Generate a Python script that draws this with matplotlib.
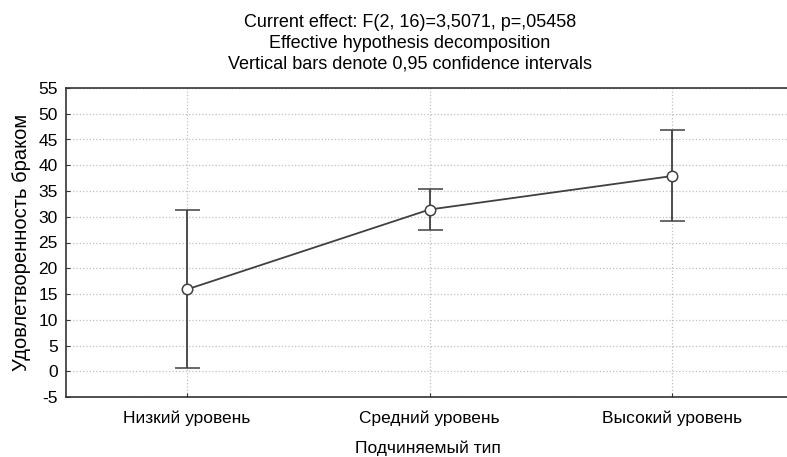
import matplotlib.pyplot as plt

plt.rcParams['font.family'] = ['Liberation Sans', 'DejaVu Sans']
plt.rcParams['axes.unicode_minus'] = False

categories = ['Низкий уровень', 'Средний уровень', 'Высокий уровень']
means = [15.9, 31.4, 37.9]
ci_low = [0.7, 27.4, 29.1]
ci_high = [31.3, 35.4, 46.8]

yerr = [[m - lo for m, lo in zip(means, ci_low)],
        [hi - m for m, hi in zip(means, ci_high)]]

fig = plt.figure(figsize=(7.87, 4.57), dpi=100)
ax = fig.add_axes([66 / 787, 1 - 397 / 457, 727 / 787, 309 / 457])

x = list(range(len(categories)))
ax.errorbar(x, means, yerr=yerr, color='#404040', lw=1.3, capsize=9,
            elinewidth=1.3, capthick=1.3, marker='o', markersize=7.5,
            markerfacecolor='white', markeredgecolor='#404040', mew=1.1,
            zorder=3)

ax.set_xlim(-0.5, 2.5)
ax.set_ylim(-5, 55)
ax.set_yticks(range(-5, 60, 5))
ax.set_xticks(x)
ax.set_xticklabels(categories)
ax.grid(True, linestyle=':', color='#c0c0c0', lw=0.9)
ax.tick_params(direction='in', length=3, labelsize=12.5, pad=6, color='#333333')
ax.tick_params(axis='x', pad=10)
for s in ax.spines.values():
    s.set_color('#333333')
    s.set_linewidth(1.2)

ax.set_ylabel('Удовлетворенность браком', fontsize=14.5, labelpad=5.5)
fig.text(428 / 787, 1 - 448 / 457, 'Подчиняемый тип', fontsize=12.5,
         ha='center', va='center')

fig.text(410 / 787, 1 - 43 / 457,
         'Current effect: F(2, 16)=3,5071, p=,05458\n'
         'Effective hypothesis decomposition\n'
         'Vertical bars denote 0,95 confidence intervals',
         fontsize=13, ha='center', va='center', linespacing=1.3)

fig.savefig('out.png', dpi=100)
